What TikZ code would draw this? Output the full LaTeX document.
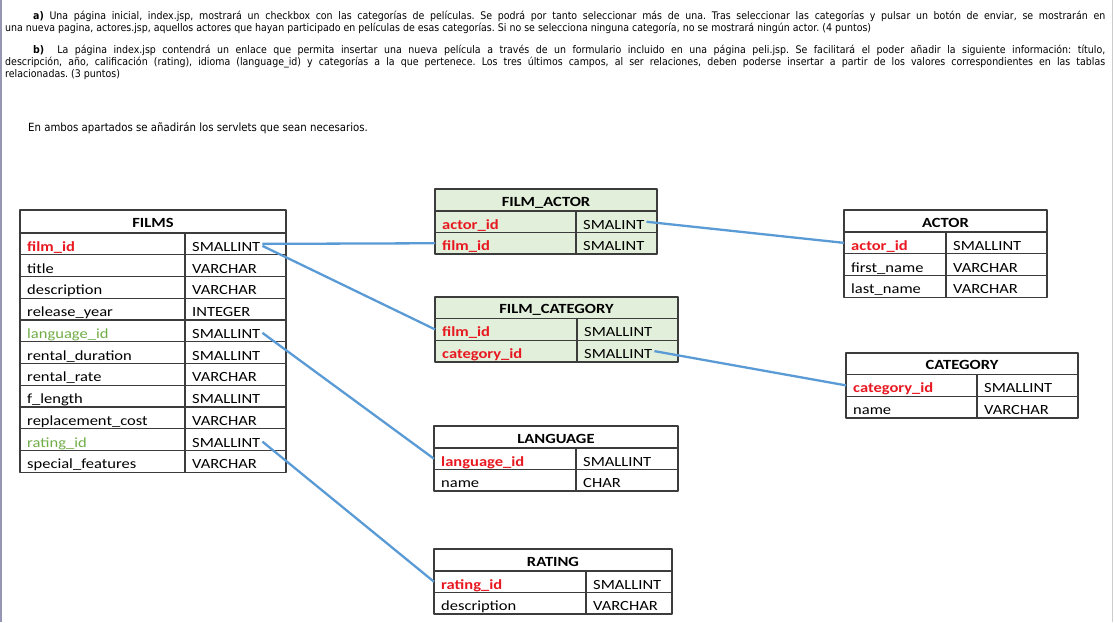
\documentclass[tikz,border=0pt]{standalone}
\usepackage{fontspec}
\setmainfont{DejaVu Sans}
\newfontfamily\tblfont[FakeStretch=1.18]{Carlito}
\newfontfamily\parfont[FakeStretch=0.9]{DejaVu Sans}
\definecolor{keyred}{RGB}{232,24,32}
\definecolor{fkgreen}{RGB}{112,173,71}
\definecolor{linkblue}{RGB}{91,155,213}
\definecolor{jointab}{RGB}{226,239,218}
\definecolor{gridgray}{RGB}{60,60,60}
\definecolor{framegray}{RGB}{150,150,180}
\frenchspacing
\begin{document}
\begin{tikzpicture}[x=1pt,y=-1pt,line join=round]
\tikzset{tbl/.style={draw=gridgray,line width=1.1pt},
  ttl/.style={font=\tblfont\fontsize{14}{16}\selectfont\bfseries,anchor=base,inner sep=0pt},
  fld/.style={font=\tblfont\fontsize{14}{16}\selectfont,anchor=west,inner xsep=7pt,inner ysep=0pt,text height=15pt,text depth=0pt},
  pk/.style={text=keyred,font=\tblfont\fontsize{14}{16}\selectfont\bfseries},
  fk/.style={text=fkgreen},
  nf/.style={},
  txt/.style={font=\parfont\fontsize{10.5}{12}\selectfont,anchor=base west,inner sep=0pt},
  link/.style={draw=linkblue,line width=2.3pt}}
\useasboundingbox (0,0) rectangle (1114,622);
\draw[framegray,line width=2pt] (1,0) -- (1,622);
\draw[gray!40,line width=1pt] (1112,0) -- (1112,622);
% enunciado
\node[txt] (pa1) at (33,19.5) {\makebox[1072pt][s]{\textbf{a)} Una página inicial, index.jsp, mostrará un checkbox con las categorías de películas. Se podrá por tanto seleccionar más de una. Tras seleccionar las categorías y pulsar un botón de enviar, se mostrarán en}};
\node[txt] (pa2) at (5,31.5) {una nueva pagina, actores.jsp, aquellos actores que hayan participado en películas de esas categorías. Si no se selecciona ninguna categoría, no se mostrará ningún actor. (4 puntos)};
\node[txt] (pb1) at (33,53.5) {\makebox[1072pt][s]{\textbf{b)}\ \ La página index.jsp contendrá un enlace que permita insertar una nueva película a través de un formulario incluido en una página peli.jsp. Se facilitará el poder añadir la siguiente información: título,}};
\node[txt] (pb2) at (5,65.5) {\makebox[1100pt][s]{descripción, año, calificación (rating), idioma (language\_id) y categorías a la que pertenece. Los tres últimos campos, al ser relaciones, deben poderse insertar a partir de los valores correspondientes en las tablas}};
\node[txt] (pb3) at (5,77) {relacionadas. (3 puntos)};
\node[txt,font=\parfont\fontsize{11.3}{13}\selectfont] (nota) at (28,131.5) {En ambos apartados se añadirán los servlets que sean necesarios.};
% FILMS
\draw[tbl] (20,210) rectangle (286,233);
\node[ttl] (films) at (153,227.5) {FILMS};
\foreach \nm/\ty/\st [count=\i] in {film\_id/SMALLINT/pk, title/VARCHAR/nf, description/VARCHAR/nf,
    release\_year/INTEGER/nf, language\_id/SMALLINT/fk, rental\_duration/SMALLINT/nf, rental\_rate/VARCHAR/nf,
    f\_length/SMALLINT/nf, replacement\_cost/VARCHAR/nf, rating\_id/SMALLINT/fk, special\_features/VARCHAR/nf}{
  \draw[tbl] (20,{233+21.75*(\i-1)}) rectangle (185,{233+21.75*\i}) rectangle (286,{233+21.75*(\i-1)});
  \node[fld,\st] (films-n\i) at (20,{233+21.75*(\i-0.5)}) {\nm};
  \node[fld] (films-t\i) at (185,{233+21.75*(\i-0.5)}) {\ty};
}
% FILM_ACTOR
\draw[tbl,fill=jointab] (435,189) rectangle (657,211);
\node[ttl] (fa) at (546,206) {FILM\_ACTOR};
\foreach \nm/\ty/\st [count=\i] in {actor\_id/SMALINT/pk, film\_id/SMALINT/pk}{
  \draw[tbl,fill=jointab] (435,{211+21.5*(\i-1)}) rectangle (576,{211+21.5*\i}) rectangle (657,{211+21.5*(\i-1)});
  \node[fld,\st] (fa-n\i) at (435,{211+21.5*(\i-0.5)}) {\nm};
  \node[fld] (fa-t\i) at (576,{211+21.5*(\i-0.5)}) {\ty};
}
% FILM_CATEGORY
\draw[tbl,fill=jointab] (435,297) rectangle (678,318.5);
\node[ttl] (fc) at (556.5,313) {FILM\_CATEGORY};
\foreach \nm/\ty/\st [count=\i] in {film\_id/SMALLINT/pk, category\_id/SMALLINT/pk}{
  \draw[tbl,fill=jointab] (435,{318.5+21.75*(\i-1)}) rectangle (577,{318.5+21.75*\i}) rectangle (678,{318.5+21.75*(\i-1)});
  \node[fld,\st] (fc-n\i) at (435,{318.5+21.75*(\i-0.5)}) {\nm};
  \node[fld] (fc-t\i) at (577,{318.5+21.75*(\i-0.5)}) {\ty};
}
% ACTOR
\draw[tbl] (844,210) rectangle (1047,232);
\node[ttl] (actor) at (945.5,227) {ACTOR};
\foreach \nm/\ty/\st [count=\i] in {actor\_id/SMALLINT/pk, first\_name/VARCHAR/nf, last\_name/VARCHAR/nf}{
  \draw[tbl] (844,{232+21.7*(\i-1)}) rectangle (946,{232+21.7*\i}) rectangle (1047,{232+21.7*(\i-1)});
  \node[fld,\st] (actor-n\i) at (844,{232+21.7*(\i-0.5)}) {\nm};
  \node[fld] (actor-t\i) at (946,{232+21.7*(\i-0.5)}) {\ty};
}
% CATEGORY
\draw[tbl] (846,353) rectangle (1078,374.5);
\node[ttl] (cat) at (962,369.5) {CATEGORY};
\foreach \nm/\ty/\st [count=\i] in {category\_id/SMALLINT/pk, name/VARCHAR/nf}{
  \draw[tbl] (846,{374.5+21.75*(\i-1)}) rectangle (977,{374.5+21.75*\i}) rectangle (1078,{374.5+21.75*(\i-1)});
  \node[fld,\st] (cat-n\i) at (846,{374.5+21.75*(\i-0.5)}) {\nm};
  \node[fld] (cat-t\i) at (977,{374.5+21.75*(\i-0.5)}) {\ty};
}
% LANGUAGE
\draw[tbl] (434,426) rectangle (678,448);
\node[ttl] (lang) at (556,443) {LANGUAGE};
\foreach \nm/\ty/\st [count=\i] in {language\_id/SMALLINT/pk, name/CHAR/nf}{
  \draw[tbl] (434,{448+21.5*(\i-1)}) rectangle (576,{448+21.5*\i}) rectangle (678,{448+21.5*(\i-1)});
  \node[fld,\st] (lang-n\i) at (434,{448+21.5*(\i-0.5)}) {\nm};
  \node[fld] (lang-t\i) at (576,{448+21.5*(\i-0.5)}) {\ty};
}
% RATING
\draw[tbl] (434,549) rectangle (672,571);
\node[ttl] (rat) at (553,566) {RATING};
\foreach \nm/\ty/\st [count=\i] in {rating\_id/SMALLINT/pk, description/VARCHAR/nf}{
  \draw[tbl] (434,{571+21.5*(\i-1)}) rectangle (586,{571+21.5*\i}) rectangle (672,{571+21.5*(\i-1)});
  \node[fld,\st] (rat-n\i) at (434,{571+21.5*(\i-0.5)}) {\nm};
  \node[fld] (rat-t\i) at (586,{571+21.5*(\i-0.5)}) {\ty};
}
% relaciones
\draw[link] ([xshift=-5pt]films-t1.east) -- (fa-n2.west);
\draw[link] ([xshift=-5pt,yshift=-2pt]films-t1.east) -- (fc-n1.west);
\draw[link] ([xshift=-5pt]fa-t1.east) -- (actor-n1.west);
\draw[link] ([xshift=-5pt]fc-t2.east) -- (cat-n1.west);
\draw[link] ([xshift=-5pt,yshift=-2pt]films-t5.east) -- (lang-n1.west);
\draw[link] ([xshift=-5pt,yshift=-2pt]films-t10.east) -- (rat-n1.west);
\end{tikzpicture}
\end{document}
